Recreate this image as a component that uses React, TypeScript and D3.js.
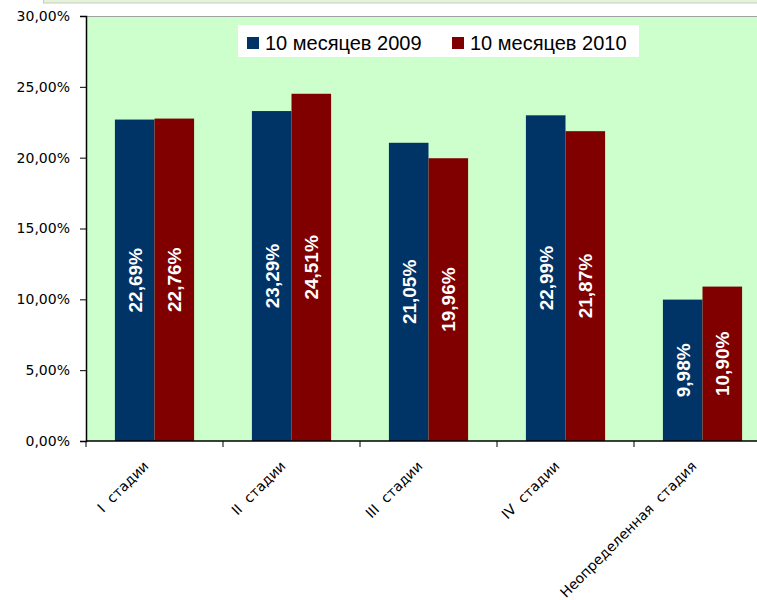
import React, { useEffect, useRef } from 'react';
import * as d3 from 'd3';

const categories = ['I  стадии', 'II  стадии', 'III  стадии', 'IV  стадии', 'Неопределенная  стадия'];
const seriesNames = ['10 месяцев 2009', '10 месяцев 2010'];
const values2009 = [22.69, 23.29, 21.05, 22.99, 9.98];
const values2010 = [22.76, 24.51, 19.96, 21.87, 10.9];
const yTicks = [0, 5, 10, 15, 20, 25, 30];
const colors = ['#003366', '#800000'];

const fmt = (v: number) => v.toFixed(2).replace('.', ',') + '%';

export default function App() {
  const svgRef = useRef<SVGSVGElement>(null);

  useEffect(() => {
    if (!svgRef.current) return;
    const width = 757;
    const height = 600;
    const plot = { left: 86, right: 771, top: 16, bottom: 441 };

    d3.select(svgRef.current).selectAll('*').remove();
    const svg = d3.select(svgRef.current)
      .attr('width', width)
      .attr('height', height);

    // strip of the sheet above the chart
    svg.append('rect')
      .attr('x', 43.5).attr('y', -2)
      .attr('width', 720).attr('height', 5)
      .attr('fill', '#e4f4d8')
      .attr('stroke', '#c8c8c8');

    const x = d3.scaleBand<string>()
      .domain(categories)
      .range([plot.left, plot.right])
      .padding(0);

    const xInner = d3.scaleBand<string>()
      .domain(seriesNames)
      .range([0, x.step()])
      .paddingInner(0)
      .paddingOuter(0.73);

    const y = d3.scaleLinear()
      .domain([0, 30])
      .range([plot.bottom, plot.top]);

    // Plot background
    svg.append('rect')
      .attr('x', plot.left)
      .attr('y', plot.top)
      .attr('width', plot.right - plot.left)
      .attr('height', plot.bottom - plot.top)
      .attr('fill', '#ccffcc');

    svg.append('line')
      .attr('x1', plot.left).attr('x2', plot.right)
      .attr('y1', plot.top + 0.5).attr('y2', plot.top + 0.5)
      .attr('stroke', '#a0a0a0');

    const series = [values2009, values2010];

    // Bars
    series.forEach((vals, si) => {
      svg.append('g')
        .selectAll('rect')
        .data(vals)
        .enter()
        .append('rect')
        .attr('x', (d, i) => (x(categories[i]) as number) + (xInner(seriesNames[si]) as number))
        .attr('y', d => y(d))
        .attr('width', xInner.bandwidth())
        .attr('height', d => plot.bottom - y(d))
        .attr('fill', colors[si]);
    });

    // Value labels
    series.forEach((vals, si) => {
      svg.append('g')
        .selectAll('text')
        .data(vals)
        .enter()
        .append('text')
        .attr('transform', (d, i) => {
          const cx = (x(categories[i]) as number) + (xInner(seriesNames[si]) as number) + xInner.bandwidth() / 2;
          const cy = (y(d) + plot.bottom) / 2;
          return `translate(${cx},${cy}) rotate(-90)`;
        })
        .attr('text-anchor', 'middle')
        .attr('dy', '0.36em')
        .attr('fill', '#ffffff')
        .style('font-family', '"Liberation Sans", Arial, sans-serif')
        .style('font-size', '19px')
        .style('font-weight', 'bold')
        .text(d => fmt(d));
    });

    // Y axis
    const yAxis = svg.append('g')
      .attr('transform', `translate(${plot.left},0)`)
      .call(d3.axisLeft(y).tickValues(yTicks).tickSize(6).tickFormat(d => fmt(d as number)));
    yAxis.select('.domain').attr('stroke', '#000').attr('stroke-width', 1.5);
    yAxis.selectAll('.tick line').attr('stroke', '#000');
    yAxis.selectAll('text')
      .attr('x', -16)
      .attr('fill', '#000')
      .style('font-family', '"DejaVu Sans", Tahoma, sans-serif')
      .style('font-size', '14px');

    // X axis
    const boundaries = categories.map(c => x(c) as number).concat([plot.right]);
    svg.append('line')
      .attr('x1', plot.left).attr('x2', plot.right)
      .attr('y1', plot.bottom).attr('y2', plot.bottom)
      .attr('stroke', '#000').attr('stroke-width', 1.5);
    svg.append('g')
      .selectAll('line')
      .data(boundaries)
      .enter()
      .append('line')
      .attr('x1', d => d).attr('x2', d => d)
      .attr('y1', plot.bottom).attr('y2', plot.bottom + 6)
      .attr('stroke', '#000');

    svg.append('g')
      .selectAll('text')
      .data(categories)
      .enter()
      .append('text')
      .attr('transform', d => `translate(${(x(d) as number) + x.step() / 2 - 5},${plot.bottom + 26}) rotate(-45)`)
      .attr('text-anchor', 'end')
      .attr('fill', '#000')
      .style('font-family', '"DejaVu Sans", Tahoma, sans-serif')
      .style('font-size', '14px')
      .style('white-space', 'pre')
      .text(d => d);

    // Legend
    const legend = svg.append('g');
    legend.append('rect')
      .attr('x', 238).attr('y', 25)
      .attr('width', 401).attr('height', 32)
      .attr('fill', '#ffffff');
    const legendX = [247, 452];
    seriesNames.forEach((name, i) => {
      legend.append('rect')
        .attr('x', legendX[i]).attr('y', 37)
        .attr('width', 12).attr('height', 12)
        .attr('fill', colors[i]);
      legend.append('text')
        .attr('x', legendX[i] + 18).attr('y', 50)
        .attr('fill', '#000')
        .style('font-family', '"Liberation Sans", Arial, sans-serif')
        .style('font-size', '20px')
        .text(name);
    });
  }, []);

  return (
    <div style={{ position: 'absolute', left: 0, top: 0, background: '#fff' }}>
      <svg ref={svgRef} style={{ display: 'block' }}></svg>
    </div>
  );
}
